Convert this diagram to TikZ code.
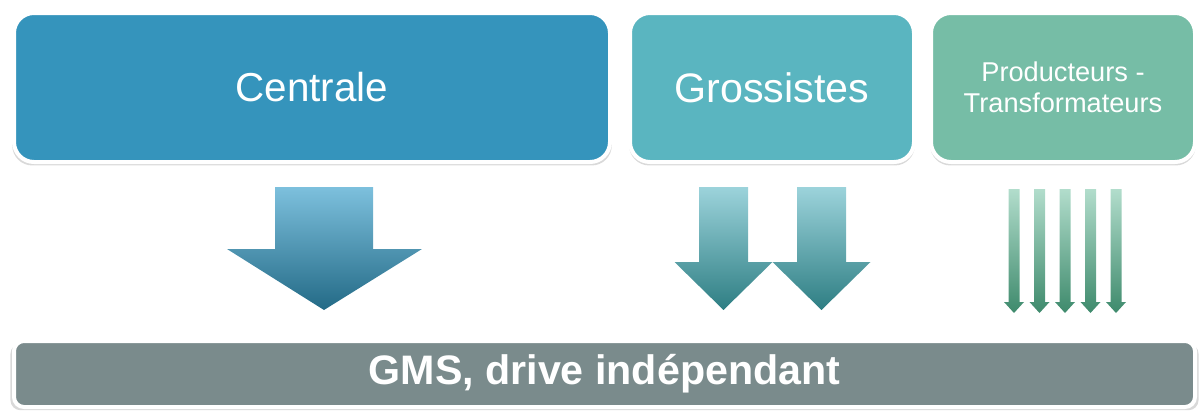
\documentclass[tikz,border=0pt]{standalone}
\usepackage{fontspec}
\setmainfont{Liberation Sans}
\usetikzlibrary{shadows}

\definecolor{centrale}{HTML}{3594BC}
\definecolor{grossiste}{HTML}{5AB5C0}
\definecolor{producteur}{HTML}{76BDA6}
\definecolor{gms}{HTML}{7A8B8C}

\tikzset{
    boite/.style={draw=white, line width=2pt, rounded corners=10pt, inner sep=0pt,
        text=white, align=center,
        drop shadow={opacity=0.3, shadow xshift=0pt, shadow yshift=-1.5pt, shadow scale=1.006}},
    flechecentrale/.style={top color={rgb,255:red,125;green,192;blue,221},
        middle color={rgb,255:red,59;green,158;blue,198}, bottom color={rgb,255:red,35;green,106;blue,134}},
    flechegrossiste/.style={top color={rgb,255:red,156;green,211;blue,219},
        middle color={rgb,255:red,93;green,185;blue,195}, bottom color={rgb,255:red,46;green,126;blue,131}},
    flecheproducteur/.style={top color={rgb,255:red,178;green,221;blue,204},
        middle color={rgb,255:red,123;green,191;blue,166}, bottom color={rgb,255:red,62;green,138;blue,108}},
}

\begin{document}
\begin{tikzpicture}[x=0.5pt, y=-0.5pt]
        \useasboundingbox (0,0) rectangle (1201,412);

        % Boites du haut
        \node[boite, fill=centrale, minimum width=298pt, minimum height=74.5pt,
            font=\fontsize{20.2}{24}\selectfont] (centrale) at (312,87.5) {Centrale};
        \node[boite, fill=grossiste, minimum width=142pt, minimum height=74.5pt,
            font=\fontsize{20.6}{24}\selectfont] (grossistes) at (772,87.5) {Grossistes};
        \node[boite, fill=producteur, minimum width=132pt, minimum height=74.5pt,
            font=\fontsize{13.6}{15.5}\selectfont] (producteurs) at (1063,87.5) {Producteurs -\\Transformateurs};

        % Barre du bas
        \node[boite, rounded corners=5pt, fill=gms, minimum width=590.5pt, minimum height=33pt,
            font=\bfseries\fontsize{20.6}{24}\selectfont] (gms) at (604.5,374) {GMS, drive indépendant};

        % Fleche Centrale
        \shade[flechecentrale]
            (275,187)--(373,187)--(373,249)--(422,249)--(324,310)--(227,249)--(275,249)--cycle;

        % Fleches Grossistes
        \foreach \cx in {723.5, 821.5} {
            \shade[flechegrossiste]
                (\cx-24.5,187)--(\cx+24.5,187)--(\cx+24.5,262)--(\cx+49,262)--(\cx,310)--(\cx-49,262)--(\cx-24.5,262)--cycle;
        }

        % Fleches Producteurs
        \foreach \i in {0,...,4} {
            \pgfmathsetmacro{\cx}{1014+25.5*\i}
            \shade[flecheproducteur]
                (\cx-5.5,189)--(\cx+5.5,189)--(\cx+5.5,302)--(\cx+10,302)--(\cx,313)--(\cx-10,302)--(\cx-5.5,302)--cycle;
        }

    \end{tikzpicture}
\end{document}
